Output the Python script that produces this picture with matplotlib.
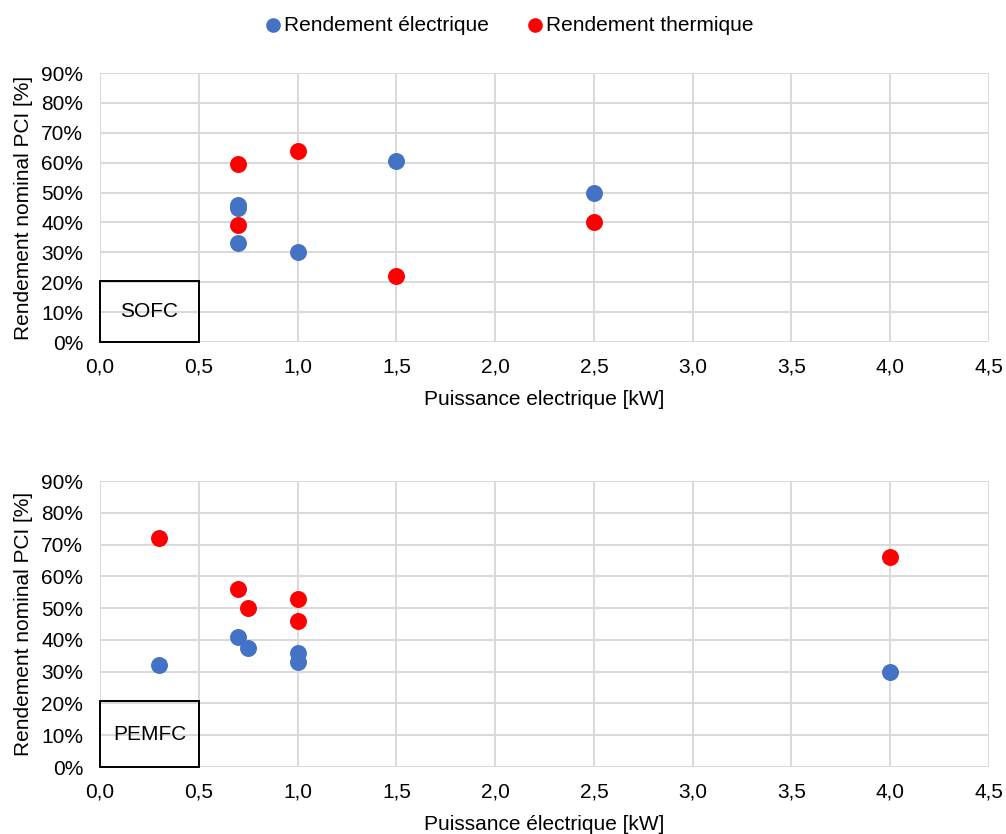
import matplotlib.pyplot as plt
from matplotlib.patches import Rectangle
from matplotlib.ticker import FuncFormatter
import numpy as np

plt.rcParams['font.family'] = ['Liberation Sans', 'DejaVu Sans']

# SOFC data
sofc_p_el = [0.7, 0.7, 0.7, 1.0, 1.5, 2.5]
sofc_eta_el = [46, 45, 33, 30, 60.5, 50]
sofc_p_th = [0.7, 0.7, 1.0, 1.5, 2.5]
sofc_eta_th = [59.5, 39, 64, 22, 40]

# PEMFC data
pemfc_p_el = [0.3, 0.7, 0.75, 1.0, 1.0, 4.0]
pemfc_eta_el = [32, 41, 37.5, 36, 33, 30]
pemfc_p_th = [0.3, 0.7, 0.75, 1.0, 1.0, 4.0]
pemfc_eta_th = [72, 56, 50, 53, 46, 66]

blue = '#4472C4'
red = '#FF0000'
fs = 15

fig = plt.figure(figsize=(10.06, 8.34), dpi=100)
ax1 = fig.add_axes([0.0994, 0.5899, 0.8837, 0.3225])
ax2 = fig.add_axes([0.0994, 0.0803, 0.8837, 0.3429])

pct = FuncFormatter(lambda v, p: f'{v:.0f}%')
comma = FuncFormatter(lambda v, p: f'{v:.1f}'.replace('.', ','))


def style(ax, xlabel, name, box_h):
    ax.set_xlim(0, 4.5)
    ax.set_ylim(0, 90)
    ax.set_xticks(np.arange(0, 4.51, 0.5))
    ax.set_yticks(np.arange(0, 91, 10))
    ax.xaxis.set_major_formatter(comma)
    ax.yaxis.set_major_formatter(pct)
    ax.grid(True, color='#D9D9D9', linewidth=1.4)
    ax.set_axisbelow(True)
    for s in ax.spines.values():
        s.set_visible(False)
    ax.tick_params(length=0, labelsize=fs, colors='#000000')
    ax.tick_params(axis='y', pad=12)
    ax.tick_params(axis='x', pad=11)
    ax.set_xlabel(xlabel, fontsize=fs, labelpad=10)
    ax.set_ylabel('Rendement nominal PCI [%]', fontsize=fs, labelpad=6)
    ax.add_patch(Rectangle((0, 0), 0.5, box_h, fill=False, edgecolor='black',
                           linewidth=1.4, zorder=4, clip_on=False))
    ax.text(0.25, box_h / 2, name, ha='center', va='center', fontsize=fs, zorder=5)


ax1.scatter(sofc_p_el, sofc_eta_el, s=125, color=blue, zorder=3, label='Rendement électrique')
ax1.scatter(sofc_p_th, sofc_eta_th, s=125, color=red, zorder=3, label='Rendement thermique')
style(ax1, 'Puissance electrique [kW]', 'SOFC', 20.3)

ax2.scatter(pemfc_p_el, pemfc_eta_el, s=125, color=blue, zorder=3)
ax2.scatter(pemfc_p_th, pemfc_eta_th, s=125, color=red, zorder=3)
style(ax2, 'Puissance électrique [kW]', 'PEMFC', 20.7)

fig.legend(*ax1.get_legend_handles_labels(), loc='center', bbox_to_anchor=(0.5, 0.970),
           ncol=2, frameon=False, fontsize=fs, handletextpad=-0.45, columnspacing=1.2,
           markerscale=0.85)

plt.savefig('out.png', dpi=100)
